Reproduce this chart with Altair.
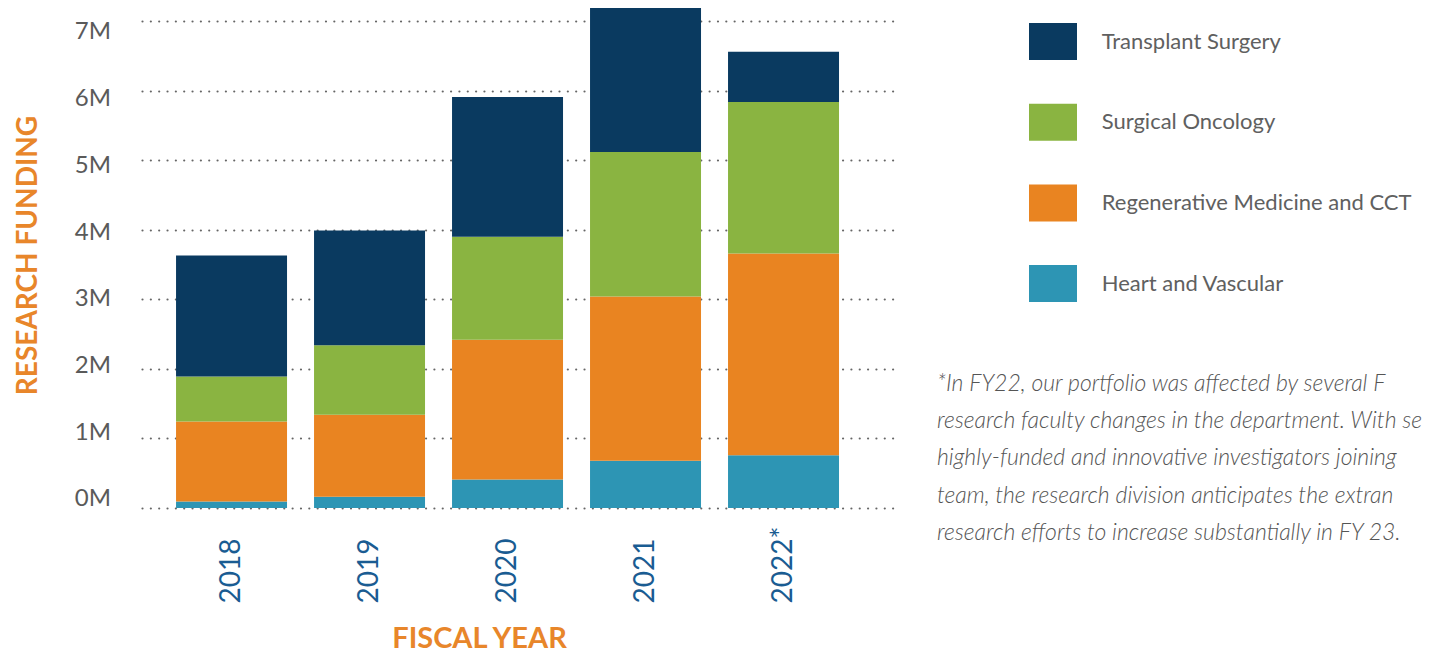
import altair as alt
import pandas as pd

# ---- data (values in millions) ----
years = ["2018", "2019", "2020", "2021", "2022*"]
series_names = ["Transplant Surgery", "Surgical Oncology", "Regenerative Medicine and CCT", "Heart and Vascular"]
series_colors = ["#0a3a60", "#8ab441", "#e98421", "#2d95b4"]
heart = [0.095, 0.16, 0.41, 0.68, 0.76]
regen = [1.15, 1.18, 2.01, 2.36, 2.90]
oncology = [0.645, 1.00, 1.48, 2.08, 2.18]
transplant = [1.74, 1.65, 2.01, 2.07, 0.72]
tick_values = [0, 1, 2, 3, 4, 5, 6, 7]
tick_labels = ["0M", "1M", "2M", "3M", "4M", "5M", "6M", "7M"]
note_lines = [
    "*In FY22, our portfolio was affected by several F",
    "research faculty changes in the department. With se",
    "highly-funded and innovative investigators joining",
    "team, the research division anticipates the extran",
    "research efforts to increase substantially in FY 23.",
]

ORANGE = "#e8862a"
BLUE = "#1a5c92"
GRAY = "#5a5a5a"

rows = []
stacks = [("Heart and Vascular", heart, 0), ("Regenerative Medicine and CCT", regen, 1),
          ("Surgical Oncology", oncology, 2), ("Transplant Surgery", transplant, 3)]
for i, yr in enumerate(years):
    for name, vals, k in stacks:
        rows.append({"year": yr, "series": name, "value": vals[i], "stack": k})
df = pd.DataFrame(rows)

bars = alt.Chart(df).mark_bar().encode(
    x=alt.X("year:N", sort=years,
            scale=alt.Scale(paddingInner=0.1957, paddingOuter=0.3298, align=0.374),
            axis=alt.Axis(title="FISCAL YEAR", labelAngle=270, labelAlign="left",
                          labelBaseline="middle", labelPadding=95, ticks=False, domain=False,
                          labelFont="Lato", labelFontSize=28, labelColor=BLUE,
                          titleFont="Lato", titleFontWeight="bold", titleFontSize=29,
                          titleColor=ORANGE, titleX=337, titleY=139, titleAlign="center",
                          titleBaseline="alphabetic")),
    y=alt.Y("value:Q", stack="zero",
            scale=alt.Scale(domain=[0, 7.19], nice=False, zero=True),
            axis=alt.Axis(title="RESEARCH FUNDING", values=tick_values, labels=False,
                          ticks=False, domain=False, grid=True, gridColor="#666666",
                          gridDash=[0.01, 8.33], gridWidth=2.2, gridCap="round",
                          titleFont="Lato", titleFontWeight="bold", titleFontSize=28,
                          titleColor=ORANGE, titleX=-106, titleY=247, titleAngle=270,
                          titleAlign="center", titleBaseline="alphabetic")),
    color=alt.Color("series:N",
                    scale=alt.Scale(domain=series_names, range=series_colors),
                    legend=alt.Legend(title=None, orient="none", legendX=887, legendY=9.5,
                                      symbolType="M-1,-0.771H1V0.771H-1Z", symbolSize=2304,
                                      symbolStrokeWidth=0, symbolOpacity=1,
                                      labelFont="Lato", labelFontSize=22, labelColor="#606060",
                                      labelOffset=24.7, rowPadding=37.7, labelLimit=0,
                                      padding=0)),
    order=alt.Order("stack:Q", sort="ascending"),
)

ylabels = alt.Chart(pd.DataFrame({"v": tick_values, "lab": tick_labels})).mark_text(
    align="right", baseline="middle", font="Lato", fontSize=24, color=GRAY
).encode(
    y=alt.Y("v:Q", scale=alt.Scale(domain=[0, 7], range=[491.4, 24.4]), axis=None),
    x=alt.value(-31),
    text="lab:N",
)

note = alt.Chart(pd.DataFrame({"a": [0]})).mark_text(
    align="left", baseline="top", font="Lato", fontSize=23, fontStyle="italic",
    fontWeight=300, color="#555555", lineHeight=37.4
).encode(
    x=alt.value(795),
    y=alt.value(364.5),
    text=alt.value(note_lines),
)

chart = alt.layer(bars, ylabels, note).resolve_scale(y="independent").properties(
    width=754, height=500,
    padding={"left": 134, "top": 0, "right": 544, "bottom": 146},
    autosize=alt.AutoSizeParams(type="none"),
).configure_view(stroke=None)

chart.save("out.html", embed_options={"renderer": "svg", "actions": False})
